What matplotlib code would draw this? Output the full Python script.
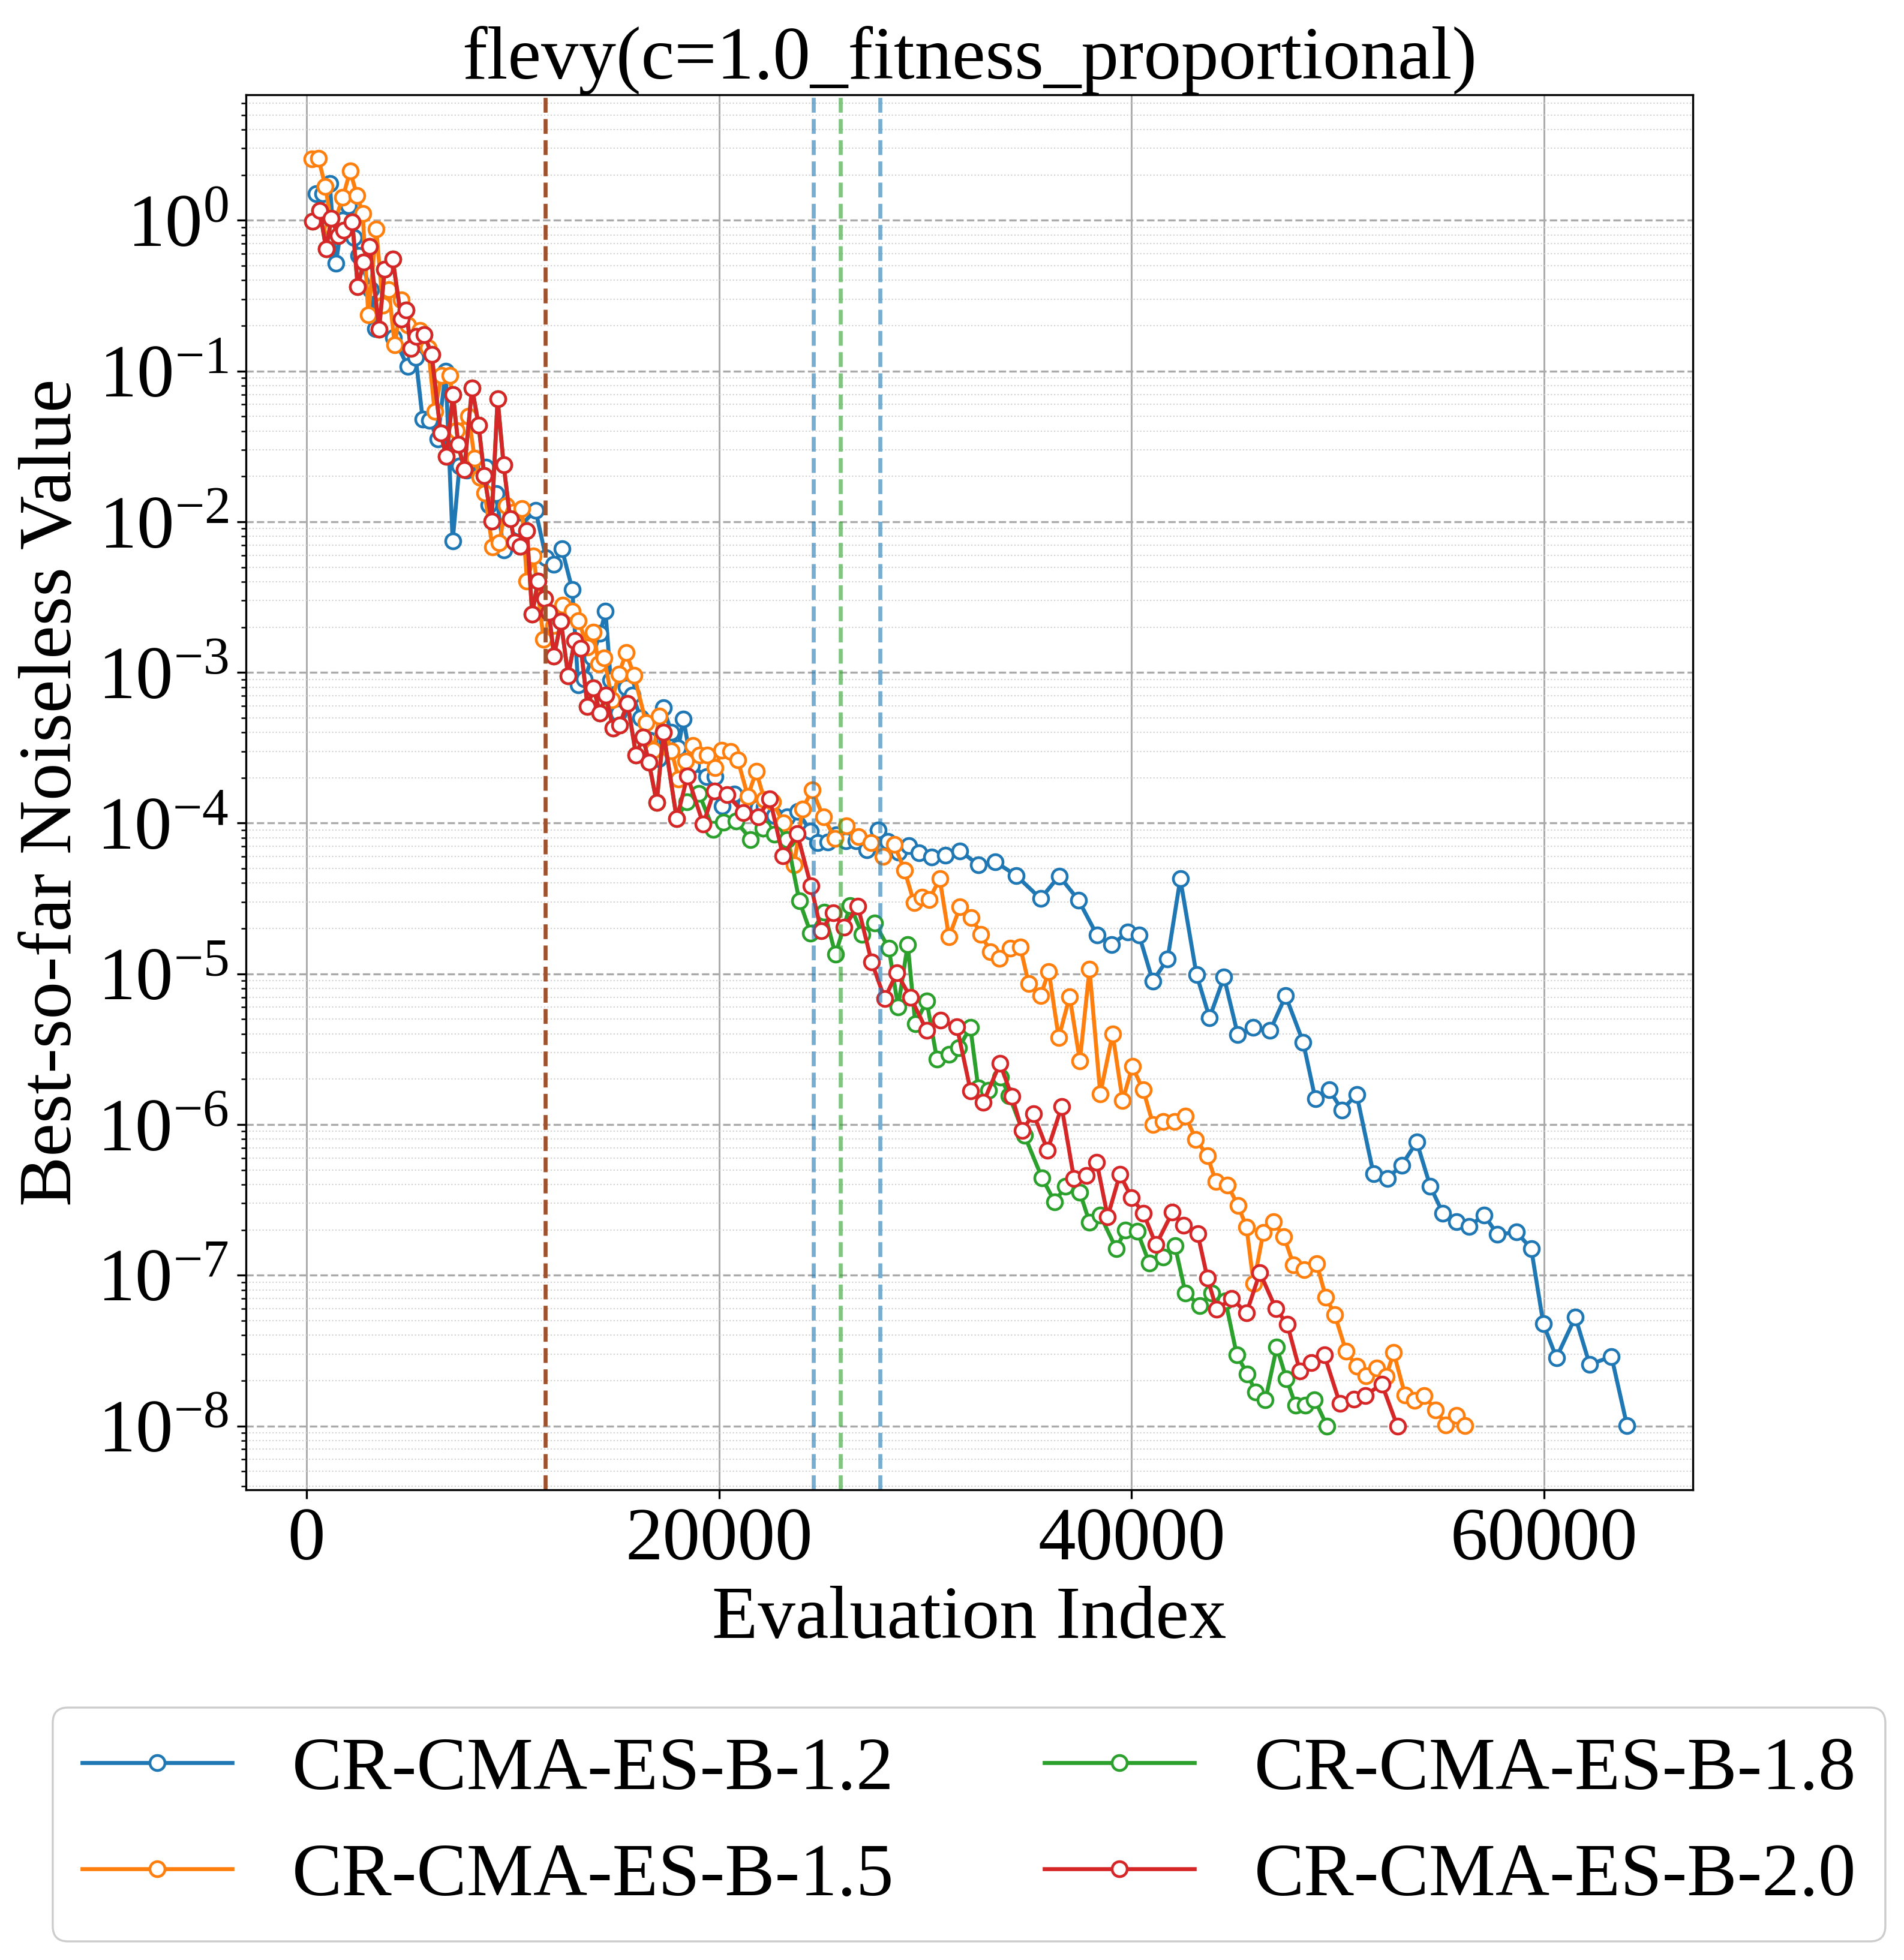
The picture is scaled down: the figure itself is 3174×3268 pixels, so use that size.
import numpy as np
import matplotlib
matplotlib.use("Agg")
import matplotlib.pyplot as plt
from matplotlib.patches import FancyBboxPatch
from matplotlib.ticker import LogLocator, MultipleLocator, NullFormatter

plt.rcParams['font.family'] = ['Liberation Serif', 'DejaVu Serif']
plt.rcParams['mathtext.fontset'] = 'stix'

title = "flevy(c=1.0_fitness_proportional)"
labels = ["CR-CMA-ES-B-1.2", "CR-CMA-ES-B-1.5", "CR-CMA-ES-B-1.8", "CR-CMA-ES-B-2.0"]
colors = ["tab:blue", "tab:orange", "tab:green", "tab:red"]

# evaluation index and log10(best-so-far value)
blue_x = [482, 792, 1131, 1422, 1750, 2052, 2294, 2536, 3117, 3359, 4231, 4909, 5297,
          5636, 5975, 6362, 6750, 7089, 7420, 7780, 8688, 8833, 9201, 9559, 10313, 11109,
          11610, 12000, 12380, 12890, 13172, 13482, 13850, 14238, 14499, 14750, 15129,
          15500, 15807, 16200, 16600, 17085, 17306, 17695, 18019, 18277, 18668, 19391,
          19798, 20166, 20747, 21300, 21900, 22200, 22700, 23300, 23809, 24443, 24777,
          25277, 25688, 26145, 26645, 27179, 27723, 28180, 28700, 29200, 29698, 30315,
          30982, 31683, 32567, 33401, 34402, 35587, 36487, 37421, 38322, 39023, 39824,
          40358, 41025, 41742, 42359, 43143, 43777, 44478, 45146, 45880, 46714, 47465,
          48315, 48900, 49583, 50194, 50908, 51723, 52396, 53089, 53823, 54475, 55087,
          55760, 56371, 57085, 57737, 58654, 59368, 59959, 60591, 61508, 62202, 63262,
          64016]
blue_log = [0.177, 0.177, 0.246, -0.287, 0.0, 0.098, -0.114, -0.234, -0.459, -0.717,
            -0.777, -0.969, -0.909, -1.321, -1.327, -1.453, -1.002, -2.129, -1.629, -1.659,
            -1.639, -1.890, -1.815, -2.189, -2.035, -1.924, -2.238, -2.283, -2.178, -2.450,
            -3.083, -3.044, -2.900, -2.739, -2.595, -3.050, -3.269, -3.100, -3.150, -3.300,
            -3.450, -3.573, -3.236, -3.396, -3.502, -3.309, -3.617, -3.693, -3.693, -3.885,
            -3.806, -3.870, -3.900, -3.892, -3.950, -3.960, -3.921, -4.054, -4.129, -4.125,
            -4.077, -4.116, -4.116, -4.178, -4.047, -4.122, -4.195, -4.150, -4.196, -4.226,
            -4.214, -4.184, -4.276, -4.258, -4.347, -4.501, -4.351, -4.510, -4.743, -4.808,
            -4.723, -4.741, -5.048, -4.903, -4.370, -5.004, -5.291, -5.022, -5.403, -5.355,
            -5.377, -5.146, -5.453, -5.827, -5.771, -5.903, -5.801, -6.326, -6.360, -6.269,
            -6.116, -6.410, -6.588, -6.645, -6.675, -6.600, -6.730, -6.714, -6.823, -7.323,
            -7.547, -7.278, -7.592, -7.540, -7.999]

orange_x = [260, 579, 918, 1250, 1761, 2120, 2459, 2730, 3001, 3389, 3700, 3995, 4280,
            4600, 4920, 5500, 5900, 6217, 6556, 6944, 7290, 7864, 8154, 8400, 8640, 9016,
            9350, 9680, 10050, 10450, 10692, 11012, 11496, 12000, 12416, 12901, 13191,
            13627, 13918, 14160, 14431, 14819, 15148, 15497, 15885, 16466, 16824, 17115,
            17696, 18045, 18374, 18733, 19066, 19420, 19808, 20134, 20570, 20912, 21400,
            21800, 22200, 22600, 23110, 23640, 24050, 24520, 25060, 25625, 26185, 26765,
            27365, 27940, 28490, 28990, 29457, 29850, 30182, 30699, 31149, 31683, 32234,
            32701, 33151, 33601, 34118, 34602, 35013, 35583, 35986, 36465, 36997, 37491,
            37959, 38480, 39078, 39563, 40033, 40563, 41043, 41530, 42078, 42600, 43113,
            43671, 44079, 44650, 45159, 45567, 45913, 46382, 46872, 47381, 47850, 48359,
            48971, 49419, 49847, 50398, 50908, 51356, 51866, 52335, 52702, 53252, 53701,
            54170, 54740, 55230, 55739, 56167]
orange_log = [0.409, 0.413, 0.226, -0.060, 0.151, 0.326, 0.164, 0.045, -0.629, -0.059,
              -0.564, -0.462, -0.828, -0.529, -0.697, -0.732, -0.845, -1.267, -1.029,
              -1.029, -1.396, -1.301, -1.579, -1.705, -1.811, -2.168, -2.140, -1.892,
              -1.935, -1.912, -2.394, -2.228, -2.779, -2.690, -2.553, -2.593, -2.656,
              -2.831, -2.732, -2.944, -2.904, -3.183, -3.010, -2.869, -3.020, -3.335,
              -3.518, -3.289, -3.521, -3.706, -3.587, -3.484, -3.547, -3.547, -3.633,
              -3.518, -3.523, -3.582, -3.823, -3.656, -3.845, -3.859, -3.997, -4.275,
              -3.905, -3.779, -3.960, -4.100, -4.018, -4.088, -4.130, -4.222, -4.142,
              -4.312, -4.529, -4.491, -4.507, -4.370, -4.755, -4.556, -4.626, -4.737,
              -4.853, -4.897, -4.832, -4.823, -5.065, -5.146, -4.984, -5.424, -5.151,
              -5.578, -4.968, -5.797, -5.398, -5.841, -5.616, -5.771, -6.000, -5.982,
              -5.982, -5.943, -6.098, -6.207, -6.378, -6.401, -6.538, -6.679, -7.056,
              -6.718, -6.645, -6.743, -6.931, -6.965, -6.924, -7.147, -7.262, -7.506,
              -7.604, -7.666, -7.615, -7.672, -7.513, -7.793, -7.832, -7.798, -7.894,
              -7.992, -7.930, -7.999]

red_x = [308, 647, 957, 1209, 1548, 1809, 2226, 2488, 2778, 3069, 3524, 3795, 4183, 4599,
         4842, 5055, 5326, 5713, 6072, 6508, 6779, 7108, 7360, 7651, 8029, 8348, 8619,
         8978, 9268, 9559, 9879, 10092, 10353, 10692, 10944, 11220, 11564, 11758, 12000,
         12339, 12688, 13000, 13308, 13627, 13918, 14228, 14518, 14858, 15177, 15570,
         15975, 16320, 16600, 16981, 17306, 17950, 18471, 19235, 19765, 20400, 21177,
         21910, 22463, 23100, 23790, 24460, 24950, 25530, 26068, 26731, 27396, 28030,
         28613, 29281, 30065, 30732, 31533, 32200, 32817, 33618, 34202, 34694, 35244,
         35924, 36609, 37208, 37820, 38309, 38839, 39430, 40001, 40572, 41184, 41979,
         42509, 43202, 43671, 44119, 44853, 45567, 46219, 46994, 47544, 48155, 48706,
         49338, 50092, 50765, 51315, 52131, 52885]
red_log = [-0.006, 0.067, -0.191, 0.012, -0.104, -0.068, -0.011, -0.439, -0.276, -0.174,
           -0.721, -0.324, -0.256, -0.655, -0.595, -0.850, -0.770, -0.757, -0.891, -1.413,
           -1.568, -1.155, -1.489, -1.655, -1.111, -1.358, -1.692, -1.996, -1.185, -1.621,
           -1.981, -2.136, -2.162, -2.060, -2.615, -2.394, -2.511, -2.603, -2.891, -2.663,
           -3.024, -2.789, -2.842, -3.225, -3.103, -3.269, -3.150, -3.368, -3.348, -3.205,
           -3.547, -3.430, -3.597, -3.863, -3.396, -3.972, -3.687, -4.006, -3.786, -3.812,
           -3.930, -3.958, -3.838, -4.219, -4.070, -4.418, -4.714, -4.597, -4.692, -4.550,
           -4.920, -5.164, -4.995, -5.155, -5.376, -5.309, -5.353, -5.779, -5.852, -5.595,
           -5.815, -6.041, -5.929, -6.170, -5.882, -6.360, -6.337, -6.250, -6.611, -6.332,
           -6.485, -6.588, -6.798, -6.581, -6.668, -6.725, -7.017, -7.227, -7.154, -7.250,
           -6.983, -7.223, -7.325, -7.634, -7.581, -7.529, -7.850, -7.821, -7.798, -7.723,
           -8.003]

# green sits exactly under red up to ~18k evaluations
green_x = red_x[:56] + [18430, 19027, 19730, 20210, 20826, 21532, 22129, 22687, 23300,
                        23894, 24443, 25108, 25645, 26356, 26945, 27553, 28230, 28680,
                        29148, 29514, 30065, 30565, 31149, 31616, 32184, 32567, 33067,
                        33651, 34069, 34800, 35659, 36271, 36801, 37494, 37963, 38472,
                        39249, 39698, 40266, 40857, 41530, 42100, 42610, 43303, 43875,
                        44547, 45098, 45607, 46015, 46484, 47034, 47503, 47952, 48421,
                        48869, 49481]
green_log = red_log[:56] + [-3.858, -3.803, -4.044, -3.996, -3.987, -4.108, -4.036,
                            -4.074, -4.108, -4.516, -4.729, -4.592, -4.871, -4.547,
                            -4.737, -4.664, -4.830, -5.220, -4.805, -5.332, -5.181,
                            -5.566, -5.536, -5.492, -5.355, -5.758, -5.772, -5.684,
                            -5.811, -6.070, -6.355, -6.513, -6.410, -6.451, -6.650,
                            -6.600, -6.823, -6.702, -6.707, -6.919, -6.880, -6.805,
                            -7.118, -7.200, -7.118, -7.170, -7.529, -7.654, -7.775,
                            -7.828, -7.478, -7.688, -7.862, -7.862, -7.825, -8.003]

# vertical marker lines (evaluation index, colour, alpha)
vline_x = [11575, 24572, 25881, 27790]
vline_colors = ["sienna", "tab:blue", "tab:green", "tab:blue"]
vline_alpha = [1.0, 0.6, 0.6, 0.6]

series_x = [blue_x, orange_x, green_x, red_x]
series_log = [blue_log, orange_log, green_log, red_log]

fig = plt.figure(figsize=(3174 / 300, 3268 / 300), dpi=300)
ax = fig.add_axes([0.1292, 0.2399, 0.7599, 0.7118])

for xs, ls, lab, c in zip(series_x, series_log, labels, colors):
    ax.plot(xs, 10.0 ** np.array(ls), '-o', color=c, lw=1.6, ms=6, mew=1.1,
            mfc='white', label=lab)

for x, c, a in zip(vline_x, vline_colors, vline_alpha):
    ax.axvline(x, color=c, ls='--', lw=1.6, alpha=a)

ax.set_yscale('log')
ax.yaxis.set_major_locator(LogLocator(base=10, numticks=30))
ax.yaxis.set_minor_locator(LogLocator(base=10, subs=np.arange(2, 10), numticks=30))
ax.yaxis.set_minor_formatter(NullFormatter())
ax.xaxis.set_major_locator(MultipleLocator(20000))

ax.grid(True, axis='x', which='major', color='#aaaaaa', lw=0.7, ls='-')
ax.grid(True, axis='y', which='major', color='#aaaaaa', lw=0.8, ls='--')
ax.grid(True, axis='y', which='minor', color='#d0d0d0', lw=0.5, ls=':')
ax.set_axisbelow(True)

ax.tick_params(axis='both', which='major', labelsize=30)
ax.set_title(title, fontsize=30)
ax.set_xlabel("Evaluation Index", fontsize=30)
ax.set_ylabel("Best-so-far Noiseless Value", fontsize=30)

# legend entries without frame, plus a rounded frame box drawn behind them
fig.legend(loc='lower center', bbox_to_anchor=(0.509, -0.0095), ncol=2, fontsize=30,
           frameon=False)
frame = FancyBboxPatch((0.0277, 0.0095), 0.9625, 0.1193,
                       boxstyle='round,pad=0,rounding_size=0.008',
                       mutation_aspect=3174 / 3268, transform=fig.transFigure,
                       facecolor='white', edgecolor='0.8', lw=0.8, zorder=1)
fig.add_artist(frame)

fig.savefig("out.png", dpi=300)
